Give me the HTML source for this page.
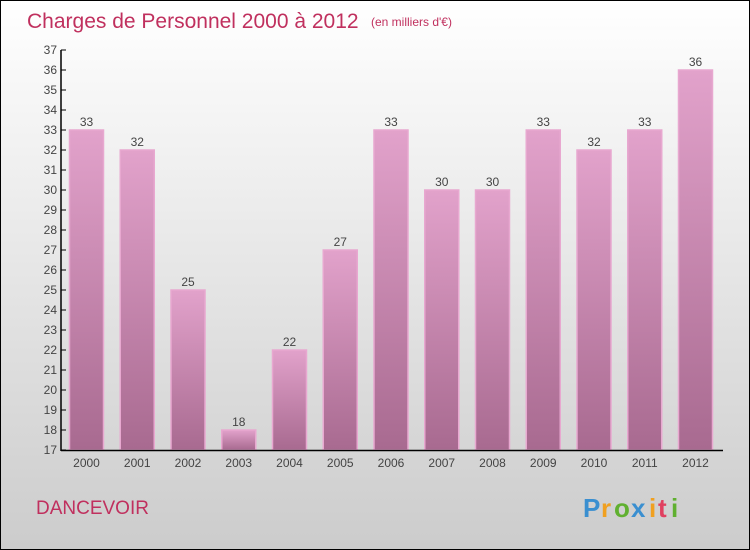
<!DOCTYPE html>
<html><head><meta charset="utf-8"><style>
body{margin:0}
#c{position:relative;width:748px;height:548px;border:1px solid #000;background:linear-gradient(#ffffff,#cccccc);font-family:"Liberation Sans",sans-serif;overflow:hidden}
svg{position:absolute;left:0;top:0}
</style></head><body>
<div id="c">
<svg width="748" height="548" id="s">
<defs><linearGradient id="g" x1="0" y1="0" x2="0" y2="1"><stop offset="0" stop-color="#e2a2cb"/><stop offset="1" stop-color="#a86a90"/></linearGradient></defs>
<text x="26" y="27" font-size="21" fill="#c0305e">Charges de Personnel 2000 à 2012</text>
<text x="370" y="25" font-size="12" fill="#c0305e">(en milliers d'€)</text>
<text x="35" y="513" font-size="19" fill="#c0305e">DANCEVOIR</text>
<g font-size="26" font-weight="bold">
<text x="582" y="516" fill="#3a8fd0">P</text><text x="600" y="516" fill="#f0a020">r</text><text x="613" y="516" fill="#60b030">o</text><text x="630" y="516" fill="#3a8fd0">x</text><text x="648" y="516" fill="#f0a020">i</text><text x="657" y="516" fill="#e04060">t</text><text x="670" y="516" fill="#60b030">i</text>
</g>
</svg>
</div>
<script>
const categories=["2000","2001","2002","2003","2004","2005","2006","2007","2008","2009","2010","2011","2012"];
const values=[33,32,25,18,22,27,33,30,30,33,32,33,36];
const yTicks=[17,18,19,20,21,22,23,24,25,26,27,28,29,30,31,32,33,34,35,36,37];
const NS="http://www.w3.org/2000/svg";
const s=document.getElementById('s');
const y0=449,yMin=17,pxU=20;
function y(v){return y0-(v-yMin)*pxU;}
function x(i){return 85.5+i*50.75;}
function mk(t,a){const e=document.createElementNS(NS,t);for(const k in a)e.setAttribute(k,a[k]);s.appendChild(e);return e;}
yTicks.forEach(v=>{
const t=mk('line',{x1:60,x2:65,y1:y(v),y2:y(v),stroke:'#000'});


const l=mk('text',{x:56,y:y(v)+4,'font-size':12,'text-anchor':'end',fill:'#444'});


l.textContent=v;
});
categories.forEach((c,i)=>{
const b=mk('rect',{x:x(i)-17,y:y(values[i]),width:34,height:y0-y(values[i]),fill:'url(#g)',stroke:'#e8a8d0','stroke-width':1.5});


const v=mk('text',{x:x(i),y:y(values[i])-4,'font-size':12,'text-anchor':'middle',fill:'#444'});


v.textContent=values[i];
const l=mk('text',{x:x(i),y:466,'font-size':12,'text-anchor':'middle',fill:'#444'});


l.textContent=c;
});
const ya=mk('line',{x1:60,x2:60,y1:y(37),y2:y0+1,stroke:'#000','stroke-width':1.5});


const xa=mk('line',{x1:60,x2:722,y1:y0+0.5,y2:y0+0.5,stroke:'#000','stroke-width':1.5});


</script>
</body></html>
